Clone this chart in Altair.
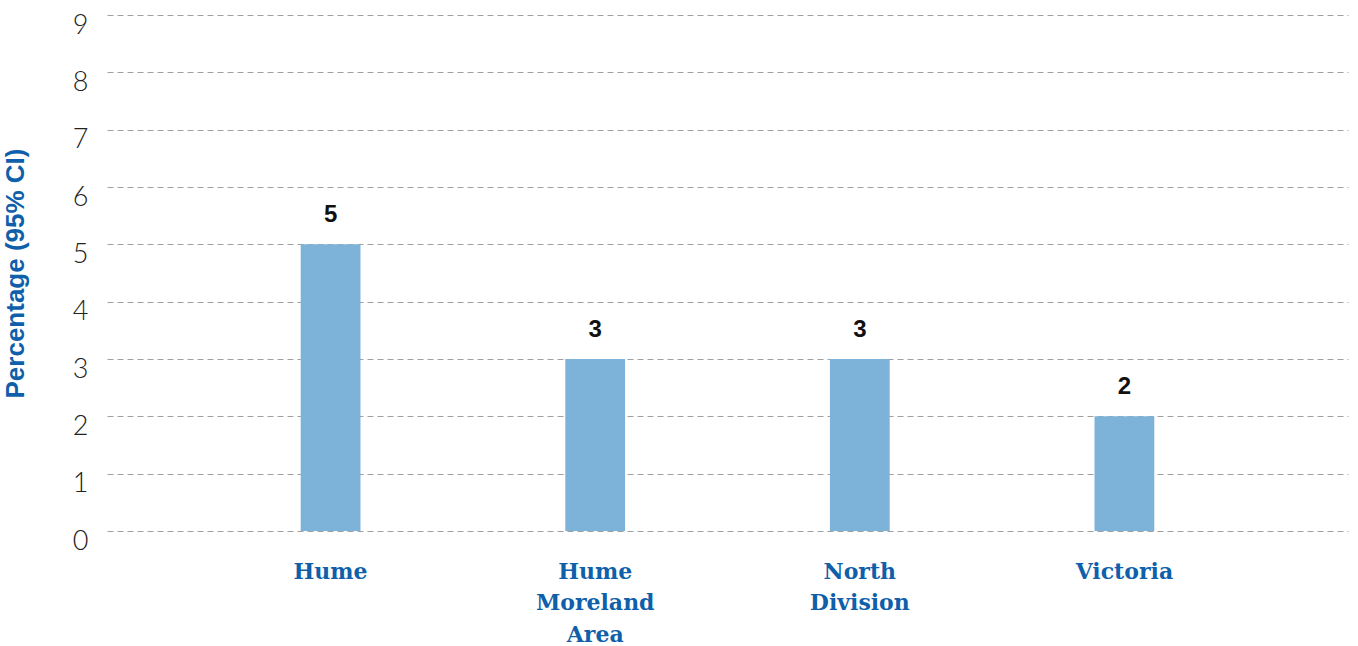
import altair as alt
import pandas as pd

categories = ["Hume", "Hume Moreland Area", "North Division", "Victoria"]
values = [5, 3, 3, 2]

df = pd.DataFrame({"area": categories, "pct": values})

x = alt.X("area:N", sort=categories,
          scale=alt.Scale(paddingInner=0.774, paddingOuter=0.732),
          axis=alt.Axis(title=None, labelAngle=0, domain=False, ticks=False,
                        labelExpr="split(datum.label, ' ')",
                        labelFont="DejaVu Serif", labelFontWeight="bold",
                        labelFontSize=22, labelColor="#0F5FAA",
                        labelLineHeight=31.5, labelBaseline="top",
                        labelPadding=30, grid=False))
y = alt.Y("pct:Q", scale=alt.Scale(domain=[0, 9], nice=False),
          axis=alt.Axis(title="Percentage (95% CI)", values=list(range(10)),
                        format="d",
                        titleFont="Liberation Sans", titleFontSize=26,
                        titleFontWeight="bold", titleColor="#0F5FAA",
                        titlePadding=44,
                        labelFont="Lato", labelFontWeight=300, labelFontSize=27,
                        labelColor="#222222", labelPadding=19,
                        labelBaseline="top", labelOffset=-3,
                        domain=False, ticks=False, grid=True,
                        gridColor="#A0A0A0", gridDash=[6, 4], gridWidth=1))

bars = alt.Chart(df).mark_bar(color="#7DB3D9").encode(x=x, y=y)
text = alt.Chart(df).mark_text(font="Liberation Sans", fontWeight="bold",
                               fontSize=24, color="#111111", dy=-22,
                               baseline="alphabetic").encode(
    x=alt.X("area:N", sort=categories), y="pct:Q", text="pct:Q")

chart = (bars + text).properties(
    width=1241, height=516,
    autosize=alt.AutoSizeParams(type="none"),
    padding={"left": 107, "top": 15, "right": 10, "bottom": 115},
).configure_view(stroke=None)

chart.save("out.html", embed_options={"renderer": "svg", "actions": False})
